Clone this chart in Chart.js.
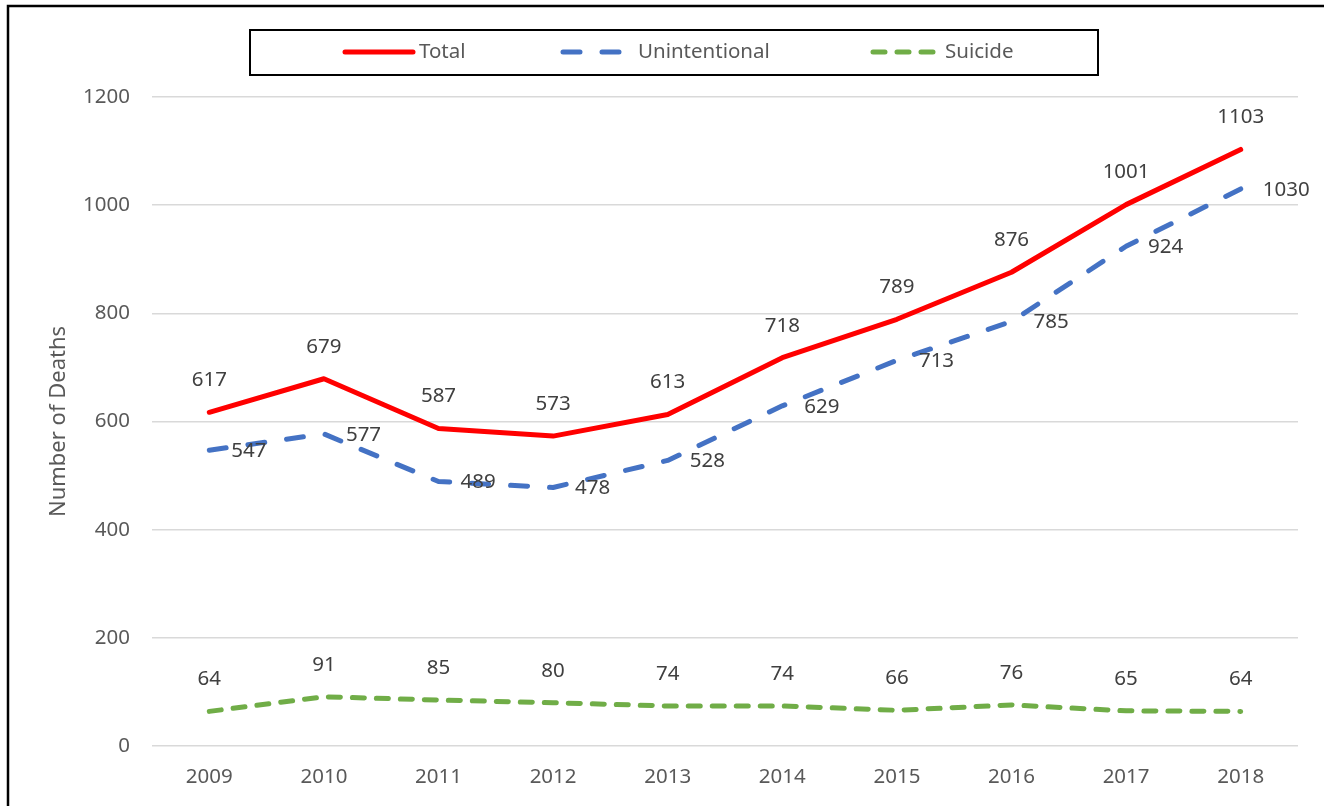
<!DOCTYPE html>
<html>
<head>
<meta charset="utf-8">
<script src="https://cdn.jsdelivr.net/npm/chart.js@4/dist/chart.umd.min.js"></script>
<style>
  html, body { margin: 0; padding: 0; background: #fff; }
  #wrap { width: 1324px; height: 806px; position: relative; }
</style>
</head>
<body>
<div id="wrap"><canvas id="deathsChart" width="1324" height="806"></canvas></div>
<script>
// data
const years = ["2009", "2010", "2011", "2012", "2013", "2014", "2015", "2016", "2017", "2018"];
const total = [617, 679, 587, 573, 613, 718, 789, 876, 1001, 1103];
const unintentional = [547, 577, 489, 478, 528, 629, 713, 785, 924, 1030];
const suicide = [64, 91, 85, 80, 74, 74, 66, 76, 65, 64];
const yTicks = [0, 200, 400, 600, 800, 1000, 1200];

const FONT = "'Noto Sans', sans-serif";
const labelColor = "#404040";
const tickColor = "#595959";

// frame + legend box, drawn by hand to look like the Excel export
const framePlugin = {
    id: "frame",
    afterDraw(chart) {
        const ctx = chart.ctx;
        ctx.save();
        ctx.strokeStyle = "#000";
        ctx.lineWidth = 2.5;
        ctx.strokeRect(8, 6, 1330, 820);

        ctx.lineWidth = 2;
        ctx.strokeRect(250, 30, 848, 45);

        const ly = 52;
        const items = [
            { ds: 0, x1: 345, x2: 413, tx: 419 },
            { ds: 1, x1: 563, x2: 625, tx: 638 },
            { ds: 2, x1: 873, x2: 935, tx: 945 }
        ];
        items.forEach(it => {
            const d = chart.data.datasets[it.ds];
            ctx.beginPath();
            ctx.strokeStyle = d.borderColor;
            ctx.lineWidth = 5;
            ctx.lineCap = d.borderCapStyle || "butt";
            ctx.setLineDash(d.borderDash || []);
            ctx.moveTo(it.x1, ly);
            ctx.lineTo(it.x2, ly);
            ctx.stroke();
            ctx.setLineDash([]);
            ctx.fillStyle = tickColor;
            ctx.font = "20.5px " + FONT;
            ctx.textAlign = "left";
            ctx.textBaseline = "middle";
            ctx.fillText(d.label, it.tx, ly);
        });
        ctx.restore();
    }
};

// value labels (Total/Suicide above, Unintentional to the right)
const valueLabels = {
    id: "valueLabels",
    afterDatasetsDraw(chart) {
        const ctx = chart.ctx;
        ctx.save();
        ctx.font = "20.5px " + FONT;
        ctx.fillStyle = labelColor;
        ctx.textBaseline = "middle";
        chart.data.datasets.forEach((ds, i) => {
            const meta = chart.getDatasetMeta(i);
            meta.data.forEach((pt, j) => {
                const v = ds.data[j];
                if (ds.labelPos === "right") {
                    ctx.textAlign = "left";
                    ctx.fillText(v, pt.x + 22, pt.y + 1);
                } else {
                    ctx.textAlign = "center";
                    ctx.fillText(v, pt.x, pt.y - 32);
                }
            });
        });
        ctx.restore();
    }
};

new Chart(document.getElementById("deathsChart").getContext("2d"), {
    type: "line",
    data: {
        labels: years,
        datasets: [
            {
                label: "Total",
                data: total,
                borderColor: "#FF0000",
                borderWidth: 5,
                borderCapStyle: "round",
                labelPos: "top"
            },
            {
                label: "Unintentional",
                data: unintentional,
                borderColor: "#4472C4",
                borderWidth: 5,
                borderDash: [17, 22],
                borderCapStyle: "round",
                labelPos: "right"
            },
            {
                label: "Suicide",
                data: suicide,
                borderColor: "#70AD47",
                borderWidth: 5,
                borderDash: [12, 12],
                borderCapStyle: "round",
                labelPos: "top"
            }
        ]
    },
    options: {
        responsive: false,
        animation: false,
        layout: { padding: { left: 0, right: 26, top: 97, bottom: 0 } },
        elements: {
            point: { radius: 0, hoverRadius: 0 },
            line: { tension: 0, borderJoinStyle: "round" }
        },
        plugins: {
            legend: { display: false },
            tooltip: { enabled: false }
        },
        scales: {
            x: {
                offset: true,
                grid: { display: false, drawTicks: false },
                border: { display: false },
                ticks: { color: tickColor, font: { size: 20.5, family: FONT }, padding: 19 },
                afterFit(s) { s.height = 60; }
            },
            y: {
                min: 0,
                max: 1200,
                afterBuildTicks(s) { s.ticks = yTicks.map(v => ({ value: v })); },
                grid: { color: "#d9d9d9", lineWidth: 1.5, drawTicks: false },
                border: { display: false },
                ticks: {
                    color: tickColor,
                    font: { size: 20.5, family: FONT },
                    padding: 22,
                    callback: v => String(v)
                },
                title: {
                    display: true,
                    text: "Number of Deaths",
                    color: tickColor,
                    font: { size: 22, family: FONT },
                    padding: { top: 46, bottom: 0 }
                },
                afterFit(s) { s.width = 152; }
            }
        }
    },
    plugins: [valueLabels, framePlugin]
});
</script>
</body>
</html>
